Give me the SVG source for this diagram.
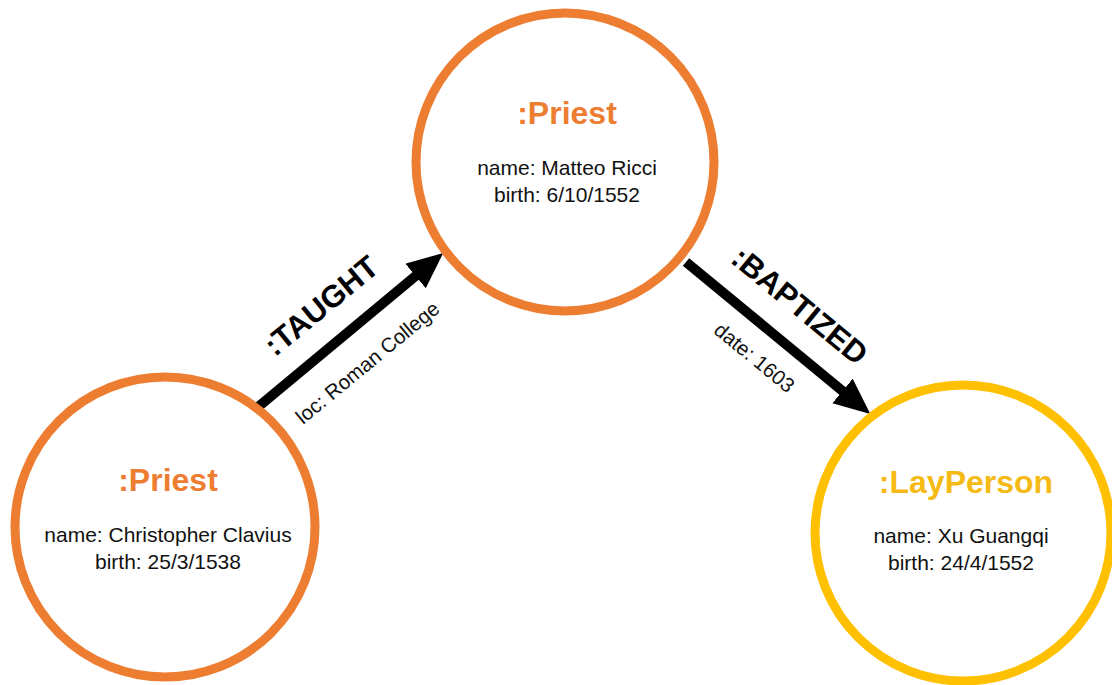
<svg xmlns="http://www.w3.org/2000/svg" width="1112" height="685" viewBox="0 0 1112 685">
<style>
.ring{fill:#fff;stroke-width:9}
.priest{stroke:#ED7D31}
.lay{stroke:#FFC000}
.title{font-family:"Liberation Sans",Arial,sans-serif;font-weight:bold;font-size:32px;text-anchor:middle}
.tp{fill:#ED7D31}
.tl{fill:#F5BA14}
.prop{font-family:"Liberation Sans",Arial,sans-serif;font-size:21px;fill:#111;text-anchor:middle}
.edge{stroke:#000;stroke-width:10;fill:none}
.elabel{font-family:"Liberation Sans",Arial,sans-serif;font-weight:bold;font-size:31px;fill:#000;text-anchor:middle}
.eprop{font-family:"Liberation Sans",Arial,sans-serif;font-size:20.5px;fill:#111;text-anchor:middle}
</style>
<defs>
<marker id="arr" markerUnits="userSpaceOnUse" markerWidth="40" markerHeight="34" refX="11" refY="16" orient="auto">
<path d="M0,0 L36,16 L0,32 z" fill="#000"/>
</marker>
</defs>
<rect width="1112" height="685" fill="#fff"/>
<g id="connectors">
<g id="edge-taught">
<line class="edge" x1="258" y1="407" x2="424" y2="269" marker-end="url(#arr)"/>
<text class="elabel" transform="translate(328,314) rotate(-39.5)">:TAUGHT</text>
<text class="eprop" transform="translate(372,368) rotate(-39.5)">loc: Roman College</text>
</g>
<g id="edge-baptized">
<line class="edge" x1="686" y1="262" x2="851" y2="398" marker-end="url(#arr)"/>
<text class="elabel" transform="translate(793,314) rotate(39.5)">:BAPTIZED</text>
<text class="eprop" transform="translate(750,363) rotate(39.5)">date: 1603</text>
</g>
</g>
<g id="node-ricci">
<circle class="ring priest" cx="565" cy="162" r="149"/>
<text class="title tp" x="567" y="124">:Priest</text>
<text class="prop" x="567" y="175">name: Matteo Ricci</text>
<text class="prop" x="567" y="202">birth: 6/10/1552</text>
</g>
<g id="node-clavius">
<circle class="ring priest" cx="165" cy="527" r="150"/>
<text class="title tp" x="168" y="491">:Priest</text>
<text class="prop" x="168" y="542">name: Christopher Clavius</text>
<text class="prop" x="168" y="569">birth: 25/3/1538</text>
</g>
<g id="node-xu">
<circle class="ring lay" cx="963" cy="533" r="148"/>
<text class="title tl" x="966" y="493">:LayPerson</text>
<text class="prop" x="961" y="543">name: Xu Guangqi</text>
<text class="prop" x="961" y="570">birth: 24/4/1552</text>
</g>
</svg>
